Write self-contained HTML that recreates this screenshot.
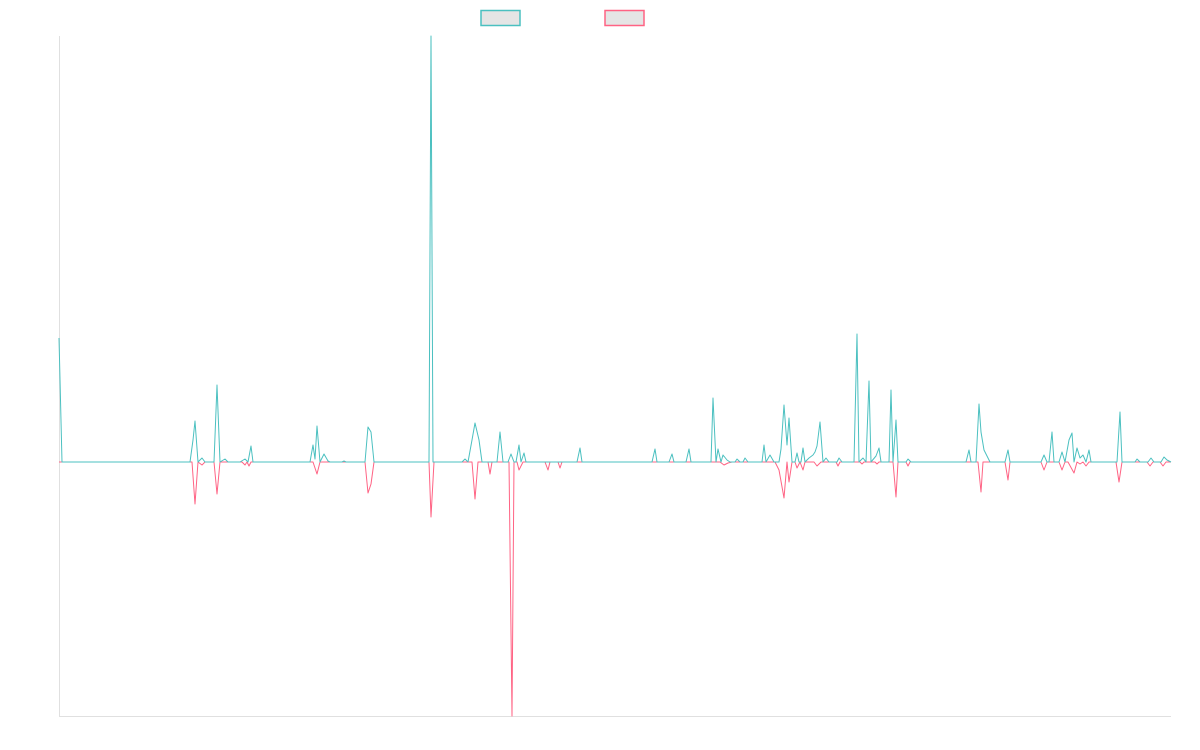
<!DOCTYPE html>
<html><head><meta charset="utf-8"><style>html,body{margin:0;padding:0;background:#fff;}svg{display:block}</style></head>
<body>
<svg width="1200" height="750" xmlns="http://www.w3.org/2000/svg">
<rect x="0" y="0" width="1200" height="750" fill="#fff"/>
<line x1="59.5" y1="36" x2="59.5" y2="716" stroke="#e0e0e0" stroke-width="1"/>
<line x1="59" y1="716.5" x2="1171" y2="716.5" stroke="#e0e0e0" stroke-width="1"/>
<rect x="481" y="10.5" width="39" height="15" fill="#e5e5e5" stroke="#4bc0c0" stroke-width="1.5"/>
<rect x="605" y="10.5" width="39" height="15" fill="#e5e5e5" stroke="#ff6384" stroke-width="1.5"/>
<polyline fill="none" stroke="#ff6384" stroke-width="1" stroke-linejoin="round" points="59,462 192,462 195,504 198,462 202,465 205,462 214,462 217,494 220,462 242,462 245,465 247,462 249,466 251,462 310,462 313,462 317,474 320,462 365,462 368,493 371,484 374,462 429,462 431,517 434,462 472,462 475,499 478,462 488,462 490,474 492,462 509,462 512,716 514,462 517,462 519,470 521,466 523,462 545,462 548,470 550,462 558,462 560,468 562,462 720,462 724,465 728,463 732,462 775,462 779,470 784,498 787,462 789,482 792,462 795,462 797,468 800,462 803,470 805,462 814,462 817,466 821,462 836,462 838,466 840,462 860,462 862,464 864,462 875,462 877,464 879,462 893,462 896,497 898,462 906,462 908,466 910,462 978,462 981,492 983,462 1005,462 1008,480 1010,462 1041,462 1044,470 1047,462 1059,462 1062,470 1065,462 1068,462 1074,473 1077,462 1080,464 1083,462 1086,466 1089,462 1116,462 1119,482 1122,462 1147,462 1150,466 1153,462 1160,462 1163,466 1166,462 1171,462"/>
<polyline fill="none" stroke="#4bc0c0" stroke-width="1" stroke-linejoin="round" points="59,338 62,462 190,462 193,440 195,421 198,462 202,458 205,462 214,462 217,385 220,462 225,459 228,462 240,462 245,459 248,462 251,446 253,462 310,462 313,445 315,459 317,426 320,462 324,454 328,461 330,462 342,462 344,461 346,462 365,462 368,427 371,432 374,462 429,462 431,36 433,462 462,462 465,459 468,462 472,440 475,423 479,440 482,462 497,462 500,432 503,462 508,462 511,454 514,462 516,462 519,445 521,462 524,453 526,462 577,462 580,448 582,462 652,462 655,449 657,462 669,462 672,454 674,462 686,462 689,449 691,462 711,462 713,398 716,462 718,449 721,462 723,455 727,460 730,462 735,462 737,459 740,462 743,462 745,458 748,462 762,462 764,445 766,462 770,455 774,462 779,462 781,449 784,405 787,445 789,418 792,462 795,462 797,453 799,462 801,462 803,448 805,462 809,458 813,455 815,452 817,446 820,422 823,462 826,458 829,462 837,462 839,458 842,462 854,462 857,334 859,462 863,458 866,462 869,381 871,462 876,456 879,448 881,462 889,462 891,390 893,462 896,420 898,462 906,462 908,459 911,462 966,462 969,450 971,462 976,462 979,404 981,432 984,450 990,462 1005,462 1008,450 1010,462 1041,462 1044,455 1047,462 1049,462 1052,432 1054,462 1059,462 1062,452 1065,462 1069,440 1072,433 1074,462 1077,448 1080,458 1083,455 1086,462 1089,450 1091,462 1117,462 1120,412 1122,462 1135,462 1137,459 1140,462 1148,462 1151,458 1154,462 1161,462 1164,457 1167,460 1171,462"/>
</svg>
</body></html>
